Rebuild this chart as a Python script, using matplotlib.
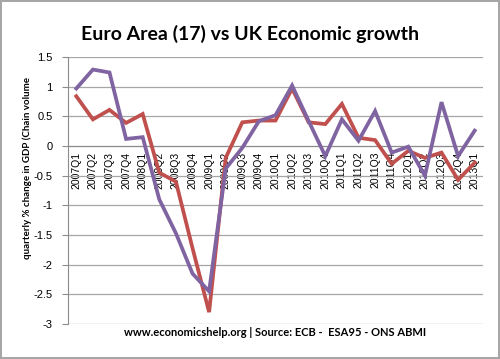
import matplotlib
matplotlib.use("Agg")
import matplotlib.pyplot as plt
from matplotlib.ticker import FuncFormatter

plt.rcParams['axes.unicode_minus'] = False
plt.rcParams['font.family'] = ['Lato', 'DejaVu Sans']

quarters = ["2007Q1", "2007Q2", "2007Q3", "2007Q4", "2008Q1", "2008Q2", "2008Q3", "2008Q4",
            "2009Q1", "2009Q2", "2009Q3", "2009Q4", "2010Q1", "2010Q2", "2010Q3", "2010Q4",
            "2011Q1", "2011Q2", "2011Q3", "2011Q4", "2012Q1", "2012Q2", "2012Q3", "2012Q4",
            "2013Q1"]
euro_area = [0.84, 0.45, 0.61, 0.39, 0.54, -0.45, -0.6, -1.72, -2.8, -0.2, 0.4, 0.43, 0.43,
             0.97, 0.4, 0.37, 0.71, 0.14, 0.1, -0.3, -0.08, -0.2, -0.11, -0.57, -0.28]
uk = [0.97, 1.29, 1.24, 0.12, 0.15, -0.9, -1.47, -2.15, -2.45, -0.38, -0.03, 0.42, 0.52,
      1.02, 0.42, -0.17, 0.45, 0.09, 0.59, -0.11, -0.01, -0.5, 0.74, -0.17, 0.26]
y_ticks = [1.5, 1, 0.5, 0, -0.5, -1, -1.5, -2, -2.5, -3]

fig = plt.figure(figsize=(5.0, 3.59), dpi=100)
fig.patch.set_edgecolor('#a6a6a6')
fig.patch.set_linewidth(1.5)
ax = fig.add_axes([0.136, 0.0975, 0.83, 0.7435])

x = list(range(len(quarters)))
ax.plot(x, euro_area, color='#C0504D', linewidth=2.7, solid_joinstyle='miter', zorder=3)
ax.plot(x, uk, color='#8064A2', linewidth=2.7, solid_joinstyle='miter', zorder=4)

ax.set_xlim(-0.5, len(quarters) - 0.5)
ax.set_ylim(-3, 1.5)
ax.set_yticks(y_ticks)
ax.yaxis.set_major_formatter(FuncFormatter(lambda v, p: f"{v:g}"))
ax.grid(axis='y', color='#a6a6a6', linewidth=0.9)
ax.set_axisbelow(True)

ax.spines['top'].set_visible(False)
ax.spines['right'].set_visible(False)
ax.spines['left'].set_color('#8c8c8c')
ax.spines['bottom'].set_position(('data', 0))
ax.spines['bottom'].set_color('#8c8c8c')

ax.set_xticks(x)
ax.set_xticklabels(quarters, rotation=90, fontsize=7.5, family=['Liberation Sans', 'DejaVu Sans'])
ax.tick_params(axis='x', length=0, pad=4)
ax.tick_params(axis='y', length=4, color='#8c8c8c', labelsize=8, pad=7)
for lab in ax.get_yticklabels():
    lab.set_family(['Liberation Sans', 'DejaVu Sans'])

fig.text(0.5, 0.905, "Euro Area (17) vs UK Economic growth", ha='center', va='center',
         fontsize=14, fontweight='bold')
fig.text(0.055, 0.532, "quarterly % change in GDP (Chain volume", rotation=90, ha='center',
         va='center', fontsize=7, fontweight='bold')
fig.text(0.55, 0.075, "www.economicshelp.org | Source: ECB -  ESA95 - ONS ABMI", ha='center',
         va='center', fontsize=8, fontweight='bold')

fig.savefig("out.png", dpi=100)
